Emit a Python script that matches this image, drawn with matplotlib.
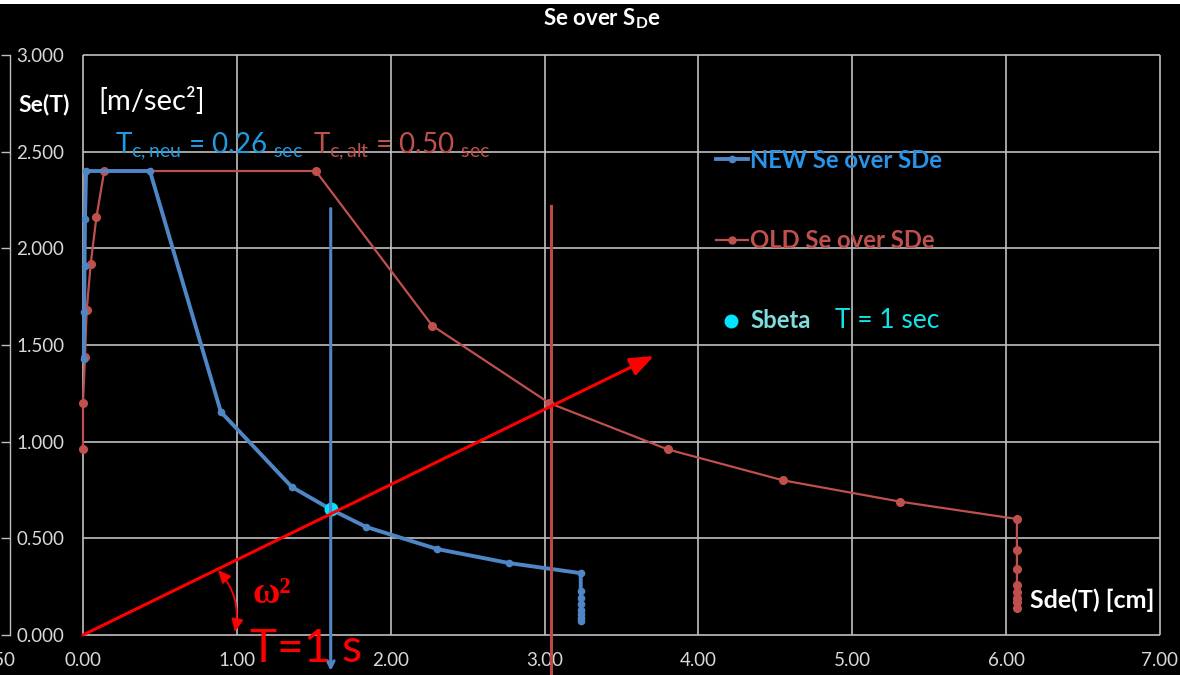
import matplotlib
matplotlib.use('Agg')
import matplotlib.pyplot as plt
from matplotlib.patches import FancyArrowPatch, Rectangle
from matplotlib.lines import Line2D

plt.rcParams['font.family'] = ['Lato', 'DejaVu Sans']
plt.rcParams['mathtext.fontset'] = 'custom'
plt.rcParams['mathtext.rm'] = 'Lato'
plt.rcParams['mathtext.bf'] = 'Lato:bold'
plt.rcParams['mathtext.it'] = 'Lato:italic'

# ---------------- data ----------------
new_sd = [0.005, 0.008, 0.010, 0.013, 0.020, 0.435, 0.896, 1.357, 1.61, 1.84, 2.30, 2.77,
          3.235, 3.235, 3.235, 3.235, 3.235, 3.235, 3.235, 3.235]
new_se = [1.43, 1.67, 1.91, 2.15, 2.40, 2.40, 1.154, 0.766, 0.65, 0.559, 0.445, 0.372,
          0.32, 0.23, 0.19, 0.16, 0.13, 0.11, 0.09, 0.07]

old_sd = [0.0, 0.0, 0.013, 0.024, 0.05, 0.087, 0.138, 1.513, 2.27, 3.03, 3.80, 4.55, 5.31,
          6.07, 6.07, 6.07, 6.07, 6.07, 6.07, 6.07, 6.07]
old_se = [0.96, 1.20, 1.44, 1.68, 1.92, 2.16, 2.40, 2.40, 1.60, 1.20, 0.96, 0.80, 0.69,
          0.60, 0.44, 0.34, 0.26, 0.22, 0.19, 0.17, 0.14]

sbeta_sd = [1.61]
sbeta_se = [0.65]

# reference verticals (Sd at T=1 s for new / old) and T=1 s line (omega^2)
vert_sd = [1.61, 3.04]
vert_top = 2.22
vert_bottom = [-0.20, -0.23]
omega_start = [0.0, 0.0]
omega_end = [3.71, 1.443]
angle_arc_start = [0.877, 0.336]
angle_arc_end = [0.987, 0.016]

x_ticks = [0, 1, 2, 3, 4, 5, 6, 7]
x_labels = ['0.00', '1.00', '2.00', '3.00', '4.00', '5.00', '6.00', '7.00']
y_ticks = [0.0, 0.5, 1.0, 1.5, 2.0, 2.5, 3.0]
y_labels = ['0.000', '0.500', '1.000', '1.500', '2.000', '2.500', '3.000']

# ---------------- styles ----------------
W, H = 1180, 675
BLUE = '#4F86C6'
RED = '#C0504D'
BRIGHT_RED = '#FF0000'
GRID = '#BFBFBF'
LABEL = '#D9D9D9'

fig = plt.figure(figsize=(W / 100, H / 100), dpi=100, facecolor='black')
ax = fig.add_axes([83 / W, 40 / H, 1077 / W, 580 / H])
ax.set_facecolor('black')
ax.set_xlim(0, 7)
ax.set_ylim(0, 3)

for s in ['top', 'right', 'bottom']:
    ax.spines[s].set_visible(False)
ax.spines['left'].set_position(('outward', 52.6))
ax.spines['left'].set_color(GRID)
ax.spines['left'].set_linewidth(1.0)

ax.set_xticks(x_ticks, labels=x_labels)
ax.set_yticks(y_ticks, labels=y_labels)
ax.tick_params(axis='x', length=0, pad=12, labelsize=13.5, labelcolor=LABEL)
ax.tick_params(axis='y', direction='out', length=6.5, width=1, color=GRID,
               labelsize=13.5, labelcolor=LABEL, pad=-11.2)
for lab in ax.get_yticklabels():
    lab.set_horizontalalignment('left')

ax.hlines(y_ticks, 0, 7, colors=GRID, lw=1.2, clip_on=False, zorder=0.5)
ax.vlines(x_ticks, 0, 3, colors=GRID, lw=1.2, clip_on=False, zorder=0.5)

# series
ax.plot(old_sd, old_se, color=RED, lw=1.6, marker='o', ms=5.5, zorder=3, clip_on=False)
ax.plot(new_sd, new_se, color=BLUE, lw=2.8, marker='o', ms=4.5, zorder=4, clip_on=False)
ax.plot(sbeta_sd, sbeta_se, ls='none', marker='o', ms=9, color='#00E5FF', zorder=5)

# vertical arrows
ax.annotate('', xy=(vert_sd[0], vert_bottom[0]), xytext=(vert_sd[0], vert_top),
            arrowprops=dict(arrowstyle='->', color=BLUE, lw=2.2, mutation_scale=12),
            annotation_clip=False, zorder=6)
ax.plot([vert_sd[1], vert_sd[1]], [vert_top, vert_bottom[1]], color='#B94A47', lw=2.2,
        clip_on=False, zorder=6)

# omega^2 line
arr = FancyArrowPatch(tuple(omega_start), tuple(omega_end),
                      arrowstyle='-|>,head_length=0.9,head_width=0.35',
                      mutation_scale=16, color=BRIGHT_RED, lw=2.2, zorder=7,
                      shrinkA=0, shrinkB=0, clip_on=False)
ax.add_patch(arr)
arc = FancyArrowPatch(tuple(angle_arc_start), tuple(angle_arc_end),
                      connectionstyle='arc3,rad=-0.25',
                      arrowstyle='<|-|>,head_length=0.55,head_width=0.25',
                      mutation_scale=14, color=BRIGHT_RED, lw=1.3, zorder=7,
                      shrinkA=0, shrinkB=0, clip_on=False)
ax.add_patch(arc)


def ptext(px, py, s, **kw):
    return fig.text(px / W, 1 - py / H, s, **kw)


# annotations
ptext(253, 603, 'ω²', family='Liberation Serif', size=27, color=BRIGHT_RED,
      weight='bold', va='baseline')
ptext(250, 662, 'T=1 s', size=33, color=BRIGHT_RED, weight='normal', va='baseline',
      zorder=5)
ptext(98, 110, '[m/sec²]', size=21, color='white', weight='normal', va='baseline')
ptext(18, 111, 'Se(T)', size=16.5, color='white', weight='bold', va='baseline')
ptext(115, 153, r'T$_{\mathrm{c,neu}}$ = 0.26 ${}_{\mathrm{sec}}$', size=20,
      color='#1E9BE1', va='baseline')
ptext(313, 153, r'T$_{\mathrm{c,alt}}$ = 0.50 ${}_{\mathrm{sec}}$', size=20,
      color=RED, va='baseline')

# title
ptext(602, 26, r'Se over S$_{\mathbf{D}}$e', size=16, color='white', weight='bold',
      ha='center', va='baseline')

# x axis title
ptext(1030, 600, 'Sde(T) [cm]', size=18, color='white', weight='bold', va='center')

# truncated -0.50 label
ptext(16, 660, '-0.50', size=13.5, color=LABEL, ha='right', va='center')

# legend (manual)
fig.add_artist(Line2D([716 / W, 732 / W, 748 / W], [1 - 159 / H] * 3, color=BLUE, lw=2.8,
                      marker='o', ms=4.5, markevery=[1]))
ptext(750, 160, 'NEW Se over SDe', size=17.2, color='#2A93E8', weight='bold', va='center')
fig.add_artist(Line2D([716 / W, 732 / W, 748 / W], [1 - 240 / H] * 3, color=RED, lw=1.6,
                      marker='o', ms=5, markevery=[1]))
ptext(750, 240, 'OLD Se over SDe', size=17.2, color=RED, weight='bold', va='center')
fig.add_artist(Line2D([731 / W], [1 - 321 / H], ls='none', marker='o', ms=9,
                      color='#00E5FF'))
ptext(750, 321, 'Sbeta', size=17.2, color='#7EDCDC', weight='bold', va='center')
ptext(835, 320, 'T = 1 sec', size=19, color='#12E3E8', weight='normal', va='center')

# white strip at the top
fig.add_artist(Rectangle((0, 1 - 4 / H), 1, 4 / H, transform=fig.transFigure,
                         facecolor='white', edgecolor='none', zorder=10))

fig.savefig('out.png', dpi=100, facecolor='black')
